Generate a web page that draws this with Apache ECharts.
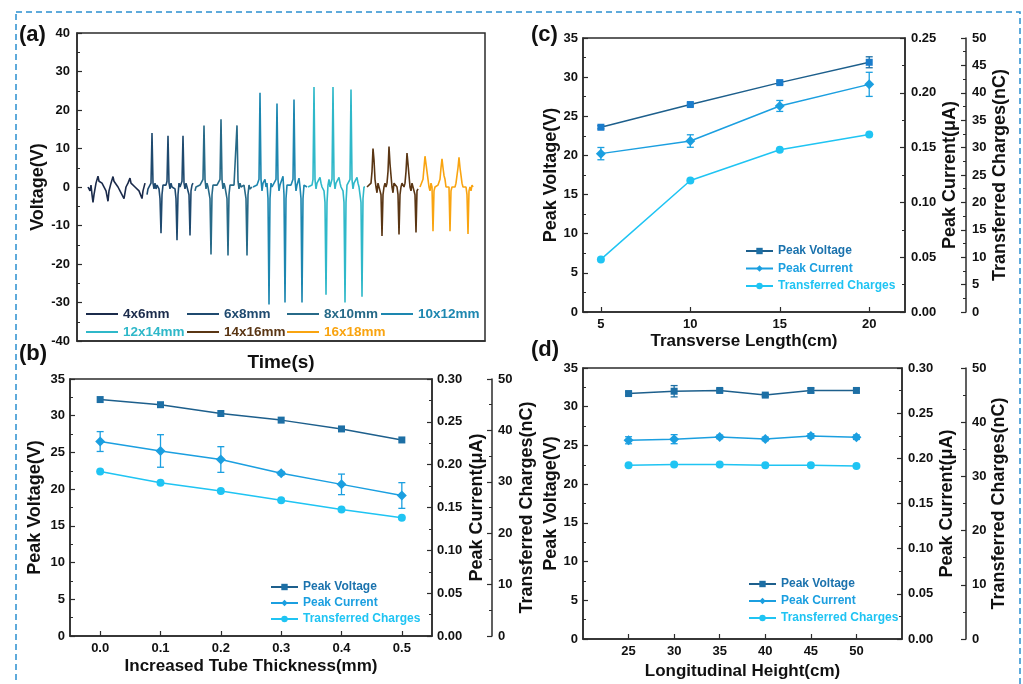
<!DOCTYPE html>
<html><head><meta charset="utf-8">
<script src="https://cdn.jsdelivr.net/npm/echarts@6/dist/echarts.min.js"></script>
<style>html,body{margin:0;padding:0;background:#fff}#c{width:1023px;height:684px}</style>
</head><body><div id="c"></div><script>
// ---------- DATA ----------
// (a) waveforms: [time (0.01 s units), voltage (V)]
const seg4x6 = [[11,0],[13,-1],[14,0.5],[15,-2],[16,-4],[17,-2],[19,1],[21,2.8],[22,1.5],[23,2],[25,1],[27,0.5],[29,-1],[31,-3.7],[32,-1],[34,1],[36,2.7],[37,1.5],[39,1],[41,0],[43,-1],[45,-1.5],[47,-3],[49,0],[51,1],[53,2.3],[54,1],[56,1.5],[58,0],[60,-0.5],[62,-1],[64,-1.5],[65,-3],[66,-1],[68,1]];
const seg6x8 = [[70,-2],[71,-0.5],[73,0],[74,1],[75,14],[76,1],[77,-0.5],[78,1],[79,-0.5],[80,0.5],[81,0],[82,-0.5],[83,-3],[84,-12],[85,-2],[86,0.5],[87,0],[89,0.5],[90,1.5],[91,13.3],[92,1],[93,-0.5],[94,1],[95,0],[96,0.5],[98,-0.5],[99,-3],[100,-13.8],[101,-2],[102,1],[103,0],[105,1.5],[106,13.3],[107,1],[108,-0.5],[109,1],[110,0],[111,0.5],[112,-2],[113,-12.6],[114,-1],[115,0.5],[116,1]];
const seg8x10 = [[118,-1],[119,0],[121,0],[123,0.5],[125,0.5],[126,2],[127,16],[128,2],[129,-0.5],[130,1],[131,0],[132,0.5],[133,-3],[134,-17.5],[135,-2],[136,0.5],[138,0],[140,0.5],[142,0.5],[143,2],[144,17.6],[145,2],[146,-0.5],[147,1],[148,0],[149,0.5],[150,-3],[151,-17.8],[152,-2],[153,0.5],[155,0],[157,0.5],[159,1],[160,16],[161,1.5],[162,-0.5],[163,1],[164,0],[166,0],[167,0.5],[168,0],[169,-3],[170,-17.8],[171,-2],[172,0.5],[173,-0.5],[175,0]];
const seg10x12 = [[176,0],[178,0],[180,0.5],[181,0],[182,2],[183,24.5],[184,2],[185,-1],[186,1],[188,2],[189,0],[190,1],[191,-3],[192,-30.5],[193,-3],[194,1],[195,0],[197,0.5],[199,2],[200,21.7],[201,2],[202,-1],[203,0.5],[205,1],[206,2.8],[207,-2],[208,-30],[209,-3],[210,0.5],[212,0],[214,0.5],[216,2],[217,22.7],[218,2],[219,-1],[220,0.5],[222,2.3],[223,0],[224,-3],[225,-30],[226,-3],[227,0.5],[229,0],[230,0]];
const seg12x14 = [[231,0],[233,0],[235,0.5],[236,2],[237,26],[238,2],[239,-0.5],[240,1],[241,0.5],[243,2.5],[244,1],[245,0],[246,0.5],[247,-1],[248,-4],[249,-28],[250,-4],[251,0.5],[252,2],[253,0],[254,0.5],[255,2],[256,26],[257,2],[258,-0.5],[259,1],[260,0.5],[262,2.5],[263,1],[264,0],[265,0.5],[266,-1],[267,-4],[268,-30],[269,-4],[270,0.5],[271,1],[272,0],[273,2],[274,25.3],[275,2],[276,-0.5],[277,1],[278,0.5],[280,2.5],[281,1],[282,0],[283,0],[284,-4],[285,-28.5],[286,-3],[287,0],[288,0]];
const seg14x16 = [[290,0],[292,0],[294,1],[295,4],[296,10],[297,7],[298,2],[299,0],[300,-1.5],[301,1],[302,0.5],[303,1],[304,-2],[305,-12.7],[306,-2],[307,0],[308,1],[309,0],[310,1],[311,4],[312,10.5],[313,6],[314,3],[315,0],[316,-1.5],[317,1],[318,0.5],[319,1],[320,0],[321,-2],[322,-12.3],[323,-2],[324,0],[325,1],[327,0],[328,1],[329,4],[330,8.8],[331,6],[332,3],[333,0],[334,-1],[335,1],[336,0.5],[337,1],[338,-2],[339,-11.8],[340,-1],[341,-0.5]];
const seg16x18 = [[343,0],[345,0.5],[346,2],[347,5],[348,8],[349,6],[350,4],[351,2],[352,0],[353,-1],[354,1],[355,0],[356,-11.5],[357,-1],[358,0],[359,0.5],[360,0],[361,0.5],[362,1],[363,2],[364,5],[365,7.3],[366,5],[367,3],[368,2],[369,0],[370,-0.5],[371,0.5],[372,0],[373,-11.5],[374,-1],[375,0],[376,0.5],[378,0],[379,1],[380,3],[381,5],[382,7.7],[383,5],[384,3],[385,1],[386,0],[387,-0.5],[388,0.5],[389,0],[390,-2],[391,-12.2],[392,-1],[393,0],[394,-1],[395,0.5],[396,0]];
const waveNames = ['4x6mm','6x8mm','8x10mm','10x12mm','12x14mm','14x16mm','16x18mm'];
const voltTicks = [-40,40,10];

// (b) increased tube thickness
const thick = ['0.0','0.1','0.2','0.3','0.4','0.5'];
const bVolt = [32.2, 31.5, 30.3, 29.4, 28.2, 26.7];
const bCurr = [0.227, 0.216, 0.206, 0.190, 0.177, 0.164];
const bCurrErr = [0.0116, 0.019, 0.015, 0.002, 0.012, 0.015];
const bChg = [32.0, 29.8, 28.2, 26.4, 24.6, 23.0];

// (c) transverse length
const cLen = [5, 10, 15, 20];
const cVolt = [23.6, 26.5, 29.3, 31.9];
const cVoltErr = [0.2, 0.2, 0.2, 0.7];
const cCurr = [0.1445, 0.156, 0.188, 0.2077];
const cCurrErr = [0.0056, 0.0057, 0.005, 0.011];
const cChg = [9.6, 24.0, 29.6, 32.4];

// (d) longitudinal height
const dHeight = [25, 30, 35, 40, 45, 50];
const dVolt = [31.7, 32.0, 32.1, 31.5, 32.1, 32.1];
const dVoltErr = [0.2, 0.73, 0.2, 0.2, 0.3, 0.2];
const dCurr = [0.220, 0.2212, 0.2237, 0.2215, 0.2248, 0.2234];
const dCurrErr = [0.0039, 0.005, 0.002, 0.002, 0.0025, 0.0025];
const dChg = [32.07, 32.2, 32.2, 32.07, 32.07, 31.9];

// ---------- STYLE ----------
const FONT = '"Liberation Sans", Arial, sans-serif';
const AX = '#2b2b2b';
const TXT = '#111';
const waveColors = ['#1b2b4b','#1f4a6f','#276a88','#1d87b0','#2fb8c9','#5a3614','#f9a410'];
const PV = '#1d6fa5', PVL = '#1d5f8c', PC = '#1b9fe0', TC = '#1fc4f3';

const chart = echarts.init(document.getElementById('c'), null, {renderer:'canvas'});

function nameStyle(sz){ return {fontFamily:FONT, fontWeight:'bold', fontSize:sz, color:TXT}; }
function yAx(grid, pos, min, max, interval, name, nameGap, fmt, offset, margin) {
  return {
    type:'value', gridIndex:grid, position:pos, offset:offset||0, min:min, max:max, interval:interval,
    name:name, nameLocation:'middle', nameGap:nameGap, nameTextStyle:nameStyle(18),
    axisLine:{show:true, onZero:false, lineStyle:{color:AX, width:1.5}},
    axisTick:{show:true, inside:true, length:5, lineStyle:{color:AX, width:1.2}},
    minorTick:{show:true, splitNumber:2, length:3, lineStyle:{color:AX, width:1}},
    splitLine:{show:false},
    axisLabel:{margin:margin, fontFamily:FONT, fontWeight:'bold', fontSize:13, color:TXT, formatter:fmt}
  };
}
const f2 = v => v.toFixed(2);
function xVal(grid, min, max, ticks, name, nameGap) {
  return {
    type:'value', gridIndex:grid, min:min, max:max, name:name, nameLocation:'middle', nameGap:nameGap,
    nameTextStyle:nameStyle(17),
    axisLine:{show:true, onZero:false, lineStyle:{color:AX, width:1.5}},
    axisTick:{show:true, inside:true, length:5, customValues:ticks, lineStyle:{color:AX, width:1.2}},
    splitLine:{show:false},
    axisLabel:{customValues:ticks, margin:6, fontFamily:FONT, fontWeight:'bold', fontSize:13, color:TXT}
  };
}
function lineSeries(name, xi, yi, data, color, lineColor, symbol, size) {
  return {type:'line', name:name, xAxisIndex:xi, yAxisIndex:yi, data:data, symbol:symbol, symbolSize:size,
    showSymbol:true, itemStyle:{color:color}, lineStyle:{color:lineColor, width:1.5}, z:3, animation:false};
}
function errSeries(xi, yi, data, color) {
  return {type:'custom', name:'err', xAxisIndex:xi, yAxisIndex:yi, data:data, z:2, animation:false,
    encode:{x:0, y:1}, silent:true,
    renderItem:function(params, api){
      const x = api.value(0), y = api.value(1), e = api.value(2);
      const t = api.coord([x, y + e]), b = api.coord([x, y - e]);
      const w = 3.5, st = {stroke:color, lineWidth:1.3};
      return {type:'group', children:[
        {type:'line', shape:{x1:t[0], y1:t[1], x2:b[0], y2:b[1]}, style:st},
        {type:'line', shape:{x1:t[0]-w, y1:t[1], x2:t[0]+w, y2:t[1]}, style:st},
        {type:'line', shape:{x1:b[0]-w, y1:b[1], x2:b[0]+w, y2:b[1]}, style:st}
      ]};
    }};
}
const pair = (xs, ys) => xs.map((x, i) => [x, ys[i]]);
const triple = (xs, ys, es) => xs.map((x, i) => [x, ys[i], es[i]]);

const gridBox = {show:true, borderColor:AX, borderWidth:1.5, backgroundColor:'transparent'};
const grids = [
  Object.assign({left:77, top:33, width:408, height:308}, gridBox),
  Object.assign({left:70, top:379, width:362, height:257}, gridBox),
  Object.assign({left:583, top:38, width:322, height:274}, gridBox),
  Object.assign({left:583, top:368, width:319, height:271}, gridBox)
];

const xAxes = [
  {type:'value', gridIndex:0, min:0, max:408, name:'Time(s)', nameLocation:'middle', nameGap:12,
   nameTextStyle:nameStyle(19), axisLine:{show:true, onZero:false, lineStyle:{color:AX, width:1.5}},
   axisTick:{show:false}, axisLabel:{show:false}, splitLine:{show:false}},
  {type:'category', gridIndex:1, data:thick, boundaryGap:true, name:'Increased Tube Thickness(mm)',
   nameLocation:'middle', nameGap:22, nameTextStyle:nameStyle(17),
   axisLine:{show:true, onZero:false, lineStyle:{color:AX, width:1.5}},
   axisTick:{show:true, inside:true, alignWithLabel:true, length:5, lineStyle:{color:AX, width:1.2}},
   splitLine:{show:false},
   axisLabel:{margin:6, fontFamily:FONT, fontWeight:'bold', fontSize:13, color:TXT}},
  xVal(2, 4, 22, cLen, 'Transverse Length(cm)', 21),
  xVal(3, 20, 55, dHeight, 'Longitudinal Height(cm)', 24)
];

const yAxes = [
  yAx(0, 'left', voltTicks[0], voltTicks[1], voltTicks[2], 'Voltage(V)', 29, null, 0, 7),
  yAx(1, 'left', 0, 35, 5, 'Peak Voltage(V)', 26, null, 0, 5),
  yAx(1, 'right', 0, 0.30, 0.05, 'Peak Current(\u03bcA)', 36, f2, 0, 5),
  yAx(1, 'right', 0, 50, 10, 'Transferred Charges(nC)', 26, null, 60, 6),
  yAx(2, 'left', 0, 35, 5, 'Peak Voltage(V)', 20, null, 0, 5),
  yAx(2, 'right', 0, 0.25, 0.05, 'Peak Current(\u03bcA)', 36, f2, 0, 6),
  yAx(2, 'right', 0, 50, 5, 'Transferred Charges(nC)', 25, null, 61, 6),
  yAx(3, 'left', 0, 35, 5, 'Peak Voltage(V)', 20, null, 0, 5),
  yAx(3, 'right', 0, 0.30, 0.05, 'Peak Current(\u03bcA)', 36, f2, 0, 6),
  yAx(3, 'right', 0, 50, 10, 'Transferred Charges(nC)', 23, null, 64, 6)
];
yAxes[0].minorTick.splitNumber = 2;

const waveSegs = [seg4x6, seg6x8, seg8x10, seg10x12, seg12x14, seg14x16, seg16x18];
const series = waveSegs.map((seg, i) => ({
  type:'line', name:waveNames[i], xAxisIndex:0, yAxisIndex:0, data:seg, showSymbol:false, symbol:'none',
  lineStyle:{color:waveColors[i], width:1.6}, itemStyle:{color:waveColors[i]}, animation:false
}));
series.push(
  errSeries(1, 2, triple([0,1,2,3,4,5], bCurr, bCurrErr), PC),
  lineSeries('Peak Voltage', 1, 1, bVolt, PV, PVL, 'rect', 7),
  lineSeries('Peak Current', 1, 2, bCurr, PC, PC, 'diamond', 10),
  lineSeries('Transferred Charges', 1, 3, bChg, TC, TC, 'circle', 8),
  errSeries(2, 4, triple(cLen, cVolt, cVoltErr), PV),
  errSeries(2, 5, triple(cLen, cCurr, cCurrErr), PC),
  lineSeries('Peak Voltage', 2, 4, pair(cLen, cVolt), '#1a7ccc', PVL, 'rect', 7),
  lineSeries('Peak Current', 2, 5, pair(cLen, cCurr), PC, PC, 'diamond', 10),
  lineSeries('Transferred Charges', 2, 6, pair(cLen, cChg), TC, TC, 'circle', 8),
  errSeries(3, 7, triple(dHeight, dVolt, dVoltErr), PV),
  errSeries(3, 8, triple(dHeight, dCurr, dCurrErr), PC),
  lineSeries('Peak Voltage', 3, 7, pair(dHeight, dVolt), PV, PVL, 'rect', 7),
  lineSeries('Peak Current', 3, 8, pair(dHeight, dCurr), PC, PC, 'diamond', 10),
  lineSeries('Transferred Charges', 3, 9, pair(dHeight, dChg), TC, TC, 'circle', 8)
);

// legends
const legAPos = [[86,307],[187,307],[287,307],[381,307],[86,325],[187,325],[287,325]];
const legends = waveNames.map((n, i) => ({
  left:legAPos[i][0], top:legAPos[i][1], orient:'horizontal', icon:'rect', itemWidth:32, itemHeight:2,
  selectedMode:false, padding:0,
  data:[{name:n, textStyle:{color:waveColors[i]}}],
  textStyle:{fontFamily:FONT, fontWeight:'bold', fontSize:13.5}
}));
function triLegend(left, top, gap) {
  return {left:left, top:top, orient:'vertical', itemWidth:27, itemHeight:8, itemGap:gap, padding:0,
    selectedMode:false,
    textStyle:{fontFamily:FONT, fontWeight:'bold', fontSize:12},
    data:[{name:'Peak Voltage', textStyle:{color:'#1b72ad'}},
          {name:'Peak Current', textStyle:{color:PC}},
          {name:'Transferred Charges', textStyle:{color:TC}}]};
}
legends.push(triLegend(270, 581, 4), triLegend(745, 245, 5.5), triLegend(748, 578, 5));

const lbl = (t, x, y) => ({type:'text', left:x, top:y, silent:true,
  style:{text:t, fontFamily:FONT, fontWeight:'bold', fontSize:22, fill:TXT}});

chart.setOption({
  animation:false,
  backgroundColor:'#fff',
  grid:grids, xAxis:xAxes, yAxis:yAxes, series:series, legend:legends,
  graphic:[
    {type:'rect', silent:true, shape:{x:16, y:12, width:1004, height:700},
     style:{fill:'none', stroke:'#2a8fd0', lineWidth:1.5, lineDash:[6,4]}},
    lbl('(a)', 19, 24), lbl('(b)', 19, 343), lbl('(c)', 531, 24), lbl('(d)', 531, 339)
  ]
});
</script></body></html>
